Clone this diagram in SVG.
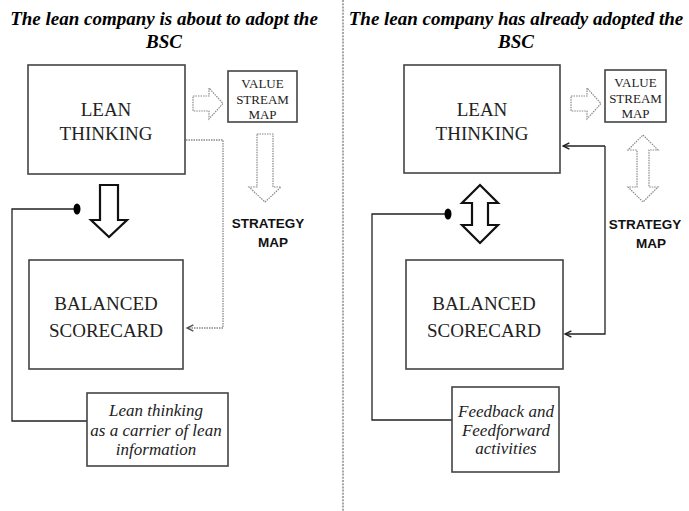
<svg xmlns="http://www.w3.org/2000/svg" width="689" height="511" viewBox="0 0 689 511">
<defs>
<style>
.title{font-family:"Liberation Serif","Times New Roman","DejaVu Serif",serif;font-weight:bold;font-style:italic;font-size:19px;fill:#000;text-anchor:middle}
.big{font-family:"Liberation Serif","Times New Roman","DejaVu Serif",serif;font-size:19px;fill:#222;text-anchor:middle}
.small{font-family:"Liberation Serif","Times New Roman","DejaVu Serif",serif;font-size:13px;fill:#222;text-anchor:middle}
.ital{font-family:"Liberation Serif","Times New Roman","DejaVu Serif",serif;font-style:italic;font-size:17px;fill:#222;text-anchor:middle}
.sm{font-family:"Liberation Sans","Open Sans",sans-serif;font-weight:bold;font-size:13.5px;fill:#111;text-anchor:middle}
.box{fill:#fff;stroke:#444;stroke-width:1.6}
.dotarrow{fill:#fff;stroke:#888;stroke-width:1.2;stroke-dasharray:1.5 1}
.bigarrow{fill:#fff;stroke:#111;stroke-width:2.2}
.line{fill:none;stroke:#222;stroke-width:1.3}
.dotline{fill:none;stroke:#888;stroke-width:1.3;stroke-dasharray:1.5 1}
</style>
<marker id="ah" viewBox="0 0 10 10" refX="9" refY="5" markerWidth="8" markerHeight="8" orient="auto" markerUnits="userSpaceOnUse">
<path d="M1,1 L9,5 L1,9" fill="none" stroke="#222" stroke-width="1.8"/>
</marker>
<marker id="ahg" viewBox="0 0 10 10" refX="9" refY="5" markerWidth="8" markerHeight="8" orient="auto" markerUnits="userSpaceOnUse">
<path d="M1,1 L9,5 L1,9" fill="none" stroke="#555" stroke-width="1.8"/>
</marker>
</defs>
<rect width="689" height="511" fill="#fff"/>
<line x1="343" y1="0" x2="343" y2="511" stroke="#777" stroke-width="1.3" stroke-dasharray="2 1.2"/>
<g id="titles">
<text class="title" x="164" y="25">The lean company is about to adopt the</text>
<text class="title" x="164" y="48">BSC</text>
<text class="title" x="516" y="25">The lean company has already adopted  the</text>
<text class="title" x="516" y="48">BSC</text>
</g>
<g id="connectors">
<path class="dotline" d="M186,140 H223 V328 H187" marker-end="url(#ahg)"/>
<path class="line" d="M77,209 H12 V421 H87"/>
<ellipse cx="77" cy="209" rx="3.5" ry="5.5" fill="#000"/>
<path class="line" d="M605,146 H563" marker-end="url(#ah)"/>
<path class="line" d="M605,146 V334 H565" marker-end="url(#ah)"/>
<path class="line" d="M448,214 H372 V420 H452"/>
<ellipse cx="448" cy="214" rx="3.5" ry="5.5" fill="#000"/>
<path class="dotarrow" d="M193,96 H209 V88 L223,103.5 L209,119 V111 H193 Z"/>
<path class="dotarrow" d="M257,134 H273 V187 H281 L265,202 L249,187 H257 Z"/>
<path class="bigarrow" d="M100,185 H118 V220 H127 L109,237 L91,220 H100 Z"/>
<path class="dotarrow" d="M571,96 H587 V88 L601,103.5 L587,119 V111 H571 Z"/>
<path class="dotarrow" d="M643,135 L658,150 H649 V187 H658 L643,202 L628,187 H637 V150 H628 Z"/>
<path class="bigarrow" d="M480,185 L498,203 H488 V225 H498 L480,243 L462,225 H472 V203 H462 Z"/>
</g>
<g id="lean-left">
<rect class="box" x="28" y="65" width="157" height="109"/>
<text class="big" x="106" y="116">LEAN</text>
<text class="big" x="106" y="140">THINKING</text>
</g>
<g id="vsm-left">
<rect class="box" x="228" y="71" width="69" height="51"/>
<text class="small" x="262.5" y="88">VALUE</text>
<text class="small" x="262.5" y="104">STREAM</text>
<text class="small" x="262.5" y="119">MAP</text>
</g>
<g id="strategy-left">
<text class="sm" x="268" y="228">STRATEGY</text>
<text class="sm" x="273" y="247">MAP</text>
</g>
<g id="bsc-left">
<rect class="box" x="29" y="260" width="154" height="109"/>
<text class="big" x="106" y="310">BALANCED</text>
<text class="big" x="106" y="337">SCORECARD</text>
</g>
<g id="note-left">
<rect class="box" x="87" y="393" width="141" height="73"/>
<text class="ital" x="156" y="416">Lean thinking</text>
<text class="ital" x="156" y="436">as a carrier of lean</text>
<text class="ital" x="156" y="455">information</text>
</g>
<g id="lean-right">
<rect class="box" x="404" y="65" width="156" height="108"/>
<text class="big" x="482" y="116">LEAN</text>
<text class="big" x="482" y="140">THINKING</text>
</g>
<g id="vsm-right">
<rect class="box" x="605" y="70" width="61" height="52"/>
<text class="small" x="635.5" y="87">VALUE</text>
<text class="small" x="635.5" y="103">STREAM</text>
<text class="small" x="635.5" y="118">MAP</text>
</g>
<g id="strategy-right">
<text class="sm" x="645" y="229">STRATEGY</text>
<text class="sm" x="651" y="248">MAP</text>
</g>
<g id="bsc-right">
<rect class="box" x="406" y="260" width="157" height="109"/>
<text class="big" x="484" y="310">BALANCED</text>
<text class="big" x="484" y="337">SCORECARD</text>
</g>
<g id="note-right">
<rect class="box" x="452" y="387" width="107" height="85"/>
<text class="ital" x="506" y="417">Feedback and</text>
<text class="ital" x="506" y="436">Feedforward</text>
<text class="ital" x="506" y="454">activities</text>
</g>
</svg>
